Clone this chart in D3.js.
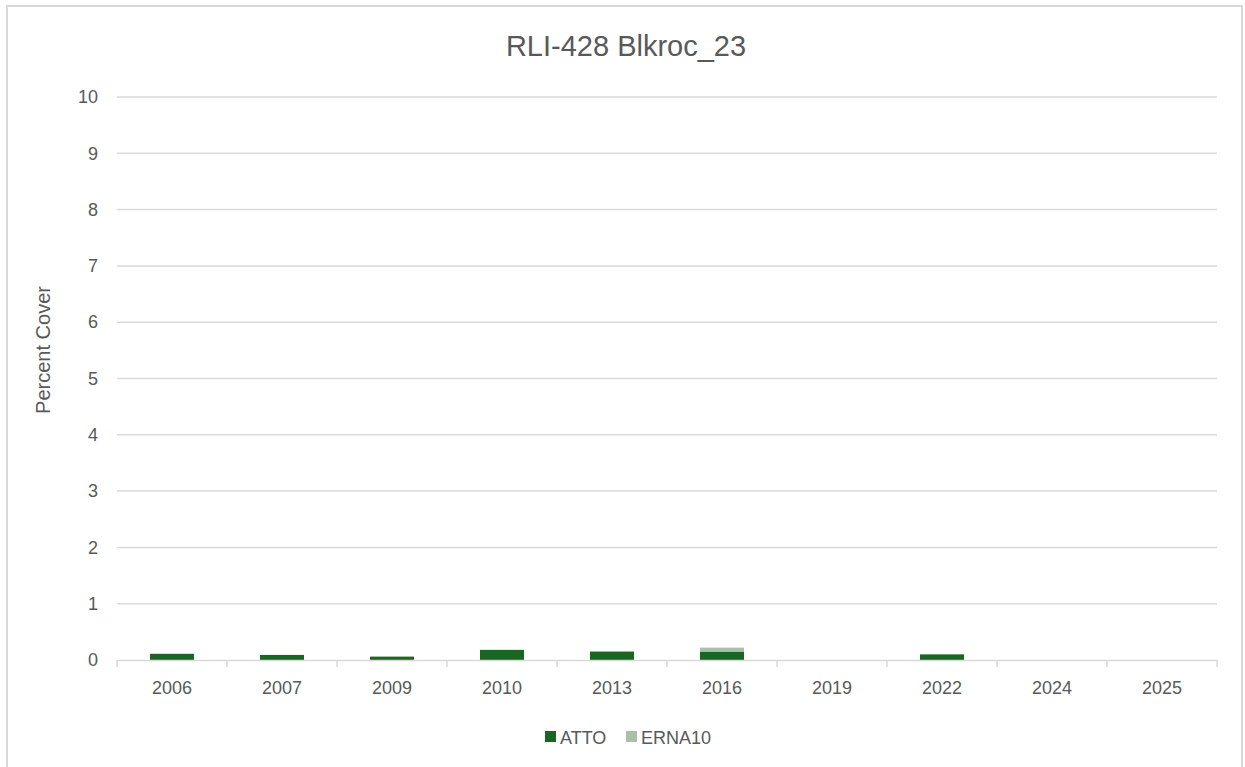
<!DOCTYPE html>
<html>
<head>
<meta charset="utf-8">
<script src="https://cdn.jsdelivr.net/npm/d3@7"></script>
<style>
  body { margin: 0; background: #fff; }
  svg { display: block; font-family: "Liberation Sans", Arial, sans-serif; }
</style>
</head>
<body>
<div id="chart"></div>
<script>
var years = ["2006", "2007", "2009", "2010", "2013", "2016", "2019", "2022", "2024", "2025"];
var atto = [0.11, 0.09, 0.06, 0.18, 0.15, 0.15, 0, 0.10, 0, 0];
var erna10 = [0, 0, 0, 0, 0, 0.07, 0, 0, 0, 0];
var seriesNames = ["ATTO", "ERNA10"];
var seriesColors = ["#1a6521", "#a9bfa9"];
var yTicks = [0, 1, 2, 3, 4, 5, 6, 7, 8, 9, 10];

var W = 1245, H = 767;
var margin = {top: 97, right: 28, bottom: 107, left: 117},
    width = W - margin.left - margin.right,
    height = H - margin.top - margin.bottom;

var svg = d3.select("#chart").append("svg")
    .attr("width", W)
    .attr("height", H);

// chart border
svg.append("rect")
    .attr("x", 7).attr("y", 6)
    .attr("width", 1235).attr("height", 780)
    .attr("fill", "#fff")
    .attr("stroke", "#d9d9d9")
    .attr("stroke-width", 2);

svg.append("text")
    .attr("x", 626).attr("y", 56)
    .attr("text-anchor", "middle")
    .attr("fill", "#595959")
    .attr("font-size", 29)
    .text("RLI-428 Blkroc_23");

var g = svg.append("g")
    .attr("transform", "translate(" + margin.left + "," + margin.top + ")");

var x = d3.scaleBand().domain(years).range([0, width]).paddingInner(0.6).paddingOuter(0.3);
var xCat = d3.scaleBand().domain(years).range([0, width]);
var y = d3.scaleLinear().domain([0, 10]).range([height, 0]);

// gridlines
g.append("g").selectAll("line")
    .data(yTicks.filter(function(d) { return d > 0; }))
    .enter().append("line")
    .attr("x1", 0).attr("x2", width)
    .attr("y1", function(d) { return y(d); })
    .attr("y2", function(d) { return y(d); })
    .attr("stroke", "#d9d9d9")
    .attr("stroke-width", 1.5);

// y axis labels
var yAxis = g.append("g")
    .call(d3.axisLeft(y).tickValues(yTicks).tickSize(0).tickPadding(19));
yAxis.select(".domain").remove();
yAxis.selectAll("text")
    .attr("fill", "#595959")
    .attr("font-size", 18)
    .style("font-family", "Liberation Sans, Arial, sans-serif");

// stacked bars
var stackData = years.map(function(yr, i) {
    return {year: yr, ATTO: atto[i], ERNA10: erna10[i]};
});
var stacked = d3.stack().keys(seriesNames)(stackData);

g.append("g").selectAll("g")
    .data(stacked)
    .enter().append("g")
    .attr("fill", function(d, i) { return seriesColors[i]; })
    .selectAll("rect")
    .data(function(d) { return d; })
    .enter().append("rect")
    .attr("x", function(d) { return x(d.data.year); })
    .attr("width", x.bandwidth())
    .attr("y", function(d) { return y(d[1]); })
    .attr("height", function(d) { return y(d[0]) - y(d[1]); });

// x axis
var xAxis = g.append("g")
    .attr("transform", "translate(0," + height + ")")
    .call(d3.axisBottom(xCat).tickSize(0).tickPadding(21));
xAxis.select(".domain").attr("stroke", "#d9d9d9").attr("stroke-width", 1.5);
xAxis.selectAll("text")
    .attr("fill", "#595959")
    .attr("font-size", 18)
    .style("font-family", "Liberation Sans, Arial, sans-serif");
// category separators
xAxis.append("g").selectAll("line")
    .data(years.concat(["end"]))
    .enter().append("line")
    .attr("x1", function(d, i) { return i * xCat.step(); })
    .attr("x2", function(d, i) { return i * xCat.step(); })
    .attr("y1", 0).attr("y2", 7)
    .attr("stroke", "#d9d9d9")
    .attr("stroke-width", 1.5);

// y axis title
svg.append("text")
    .attr("transform", "translate(50,350) rotate(-90)")
    .attr("text-anchor", "middle")
    .attr("fill", "#595959")
    .attr("font-size", 20)
    .text("Percent Cover");

// legend
var legend = svg.append("g").attr("transform", "translate(545,737)");
var legItems = legend.selectAll("g")
    .data(seriesNames)
    .enter().append("g")
    .attr("transform", function(d, i) { return "translate(" + (i * 81) + ",0)"; });
legItems.append("rect")
    .attr("x", 0).attr("y", -6)
    .attr("width", 11).attr("height", 11)
    .attr("fill", function(d, i) { return seriesColors[i]; });
legItems.append("text")
    .attr("x", 15).attr("y", 7)
    .attr("fill", "#595959")
    .attr("font-size", 18)
    .text(function(d) { return d; });
</script>
</body>
</html>
